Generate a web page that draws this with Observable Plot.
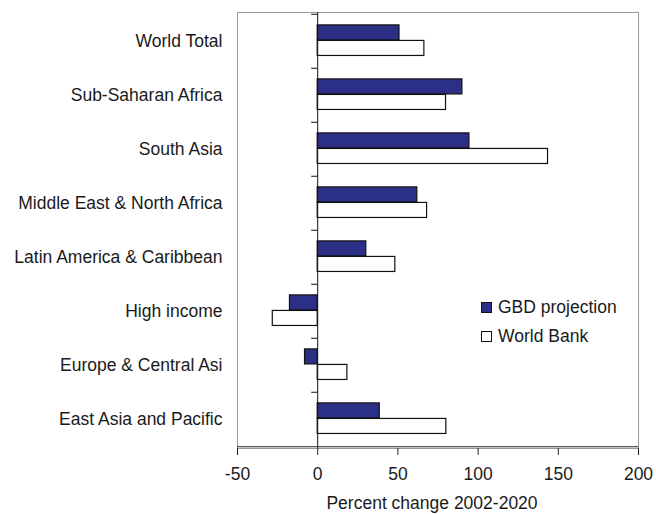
<!DOCTYPE html>
<html>
<head>
<meta charset="utf-8">
<script src="https://cdn.jsdelivr.net/npm/d3@7"></script>
<script src="https://cdn.jsdelivr.net/npm/@observablehq/plot@0.6"></script>
<style>
  body { margin: 0; background: #fff; font-family: "Liberation Sans", Arial, sans-serif; }
  #wrap { position: relative; width: 656px; height: 514px; }
  #legend { position: absolute; left: 481px; top: 293px; font-size: 17.5px; color: #1a1a1a; }
  .row { display: flex; align-items: center; height: 29px; }
  .sw { width: 9px; height: 9px; border: 1px solid #111; margin-right: 6px; }
</style>
</head>
<body>
<div id="wrap"><div id="legend"></div></div>
<script>
const regions = [
  "World Total",
  "Sub-Saharan Africa",
  "South Asia",
  "Middle East & North Africa",
  "Latin America & Caribbean",
  "High income",
  "Europe & Central Asi",
  "East Asia and Pacific"
];
const gbdProjection = [51, 90.2, 94.6, 62.1, 30.3, -17.3, -7.9, 38.7];
const worldBank = [66.5, 80, 143.6, 68.2, 48.4, -28, 18.5, 80.2];
const seriesNames = ["GBD projection", "World Bank"];
const seriesColors = ["#2c2f86", "#ffffff"];
const xTicks = [-50, 0, 50, 100, 150, 200];
const xLabel = "Percent change 2002-2020";

const rows = regions.map((r, i) => ({region: r, gbd: gbdProjection[i], wb: worldBank[i]}));

const W = 656, H = 514, mT = 12, mB = 66, mL = 237, mR = 18;
const band = (H - mT - mB) / regions.length;

const chart = Plot.plot({
  width: W,
  height: H,
  marginLeft: mL,
  marginRight: mR,
  marginTop: mT,
  marginBottom: mB,
  style: {fontFamily: "'Liberation Sans', Arial, sans-serif", fontSize: "17.5px", color: "#1a1a1a", background: "#fff"},
  x: {domain: [-50, 200], label: null},
  y: {domain: regions, padding: 0, label: null},
  marks: [
    Plot.frame({stroke: "#9a9a9a"}),
    Plot.barX(rows, {x: "gbd", y: "region", fill: seriesColors[0], stroke: "#111", strokeWidth: 1.2, insetTop: band * 0.2, insetBottom: band * 0.515}),
    Plot.barX(rows, {x: "wb", y: "region", fill: seriesColors[1], stroke: "#111", strokeWidth: 1.2, insetTop: band * 0.485, insetBottom: band * 0.23}),
    Plot.ruleX([0], {stroke: "#111"}),
    Plot.ruleY(regions, {y: d => d, x1: 0, x2: 0, insetLeft: -6, dy: -band / 2, stroke: "#111"}),
    Plot.ruleY([regions[regions.length - 1]], {y: d => d, dy: band / 2, stroke: "#222"}),
    Plot.axisX({ticks: xTicks, tickFormat: d => String(d), tickSize: 7, tickPadding: 12, label: null, fontSize: 17.5, stroke: "#222"}),
    Plot.axisY({tickSize: 0, tickPadding: 15, label: null, fontSize: 17.5}),
    Plot.text([xLabel], {frameAnchor: "bottom", dy: 60, dx: -6, fontSize: 17.5, fill: "#1a1a1a"})
  ]
});
document.getElementById("wrap").prepend(chart);

const legend = document.getElementById("legend");
seriesNames.forEach((name, i) => {
  const row = document.createElement("div");
  row.className = "row";
  const sw = document.createElement("div");
  sw.className = "sw";
  sw.style.background = seriesColors[i];
  const t = document.createElement("span");
  t.textContent = name;
  row.append(sw, t);
  legend.append(row);
});
</script>
</body>
</html>
